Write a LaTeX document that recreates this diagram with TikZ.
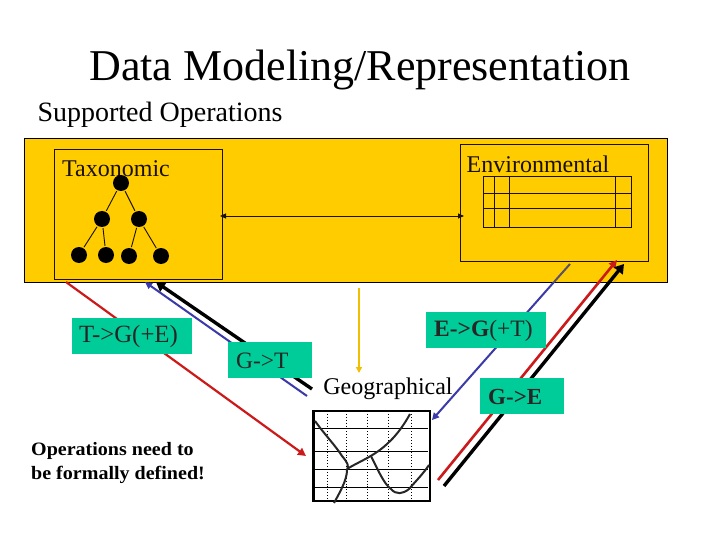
\documentclass[tikz,border=0pt]{standalone}
\usepackage{fontspec}
\setmainfont{Liberation Serif}
\newfontfamily\notefont[FakeStretch=1.06]{Liberation Serif}
\usetikzlibrary{arrows.meta}
\definecolor{panelyellow}{HTML}{FFCC00}
\definecolor{boxgreen}{HTML}{00CC99}
\definecolor{linered}{HTML}{CC1A1A}
\definecolor{lineblue}{HTML}{3A3AA8}
\definecolor{linegold}{HTML}{F0C000}
\definecolor{lineslate}{HTML}{5A5068}
\definecolor{inkdark}{HTML}{1A1008}
\tikzset{
  opbox/.style={fill=boxgreen,draw=none,minimum height=36pt,inner sep=0pt,text=black!85,anchor=center},
  oplabel/.style={inner sep=0pt,text=black!85,anchor=west},
  lbl/.style={inner sep=0pt,anchor=center},
  treedot/.style={circle,fill=black,minimum size=16pt,inner sep=0pt,draw=none},
  treeedge/.style={draw=inkdark,line width=0.9pt,shorten >=1pt,shorten <=1pt},
  tablerule/.style={line width=1pt,draw=inkdark},
  gridsolid/.style={line width=0.9pt,draw=black},
  griddot/.style={line width=0.9pt,draw=black,dotted},
  chartcurve/.style={line width=2pt,draw=black!85}
}
\begin{document}
\begin{tikzpicture}[x=1pt,y=-1pt]
\useasboundingbox (0,0) rectangle (720,540);
\fill[white] (0,0) rectangle (720,540);
\node[lbl,font=\fontsize{44}{46}\selectfont] (title) at (360,69.5) {Data Modeling/Representation};
\node[lbl,font=\fontsize{28}{30}\selectfont] (sub) at (160,115) {Supported Operations};
% panels
\fill[panelyellow,draw=black,line width=1pt] (24.5,138.5) rectangle (667,282);
\draw[draw=inkdark,line width=1pt] (54.5,149.5) rectangle (222.5,279);
\draw[draw=inkdark,line width=1pt] (460.5,144.5) rectangle (648.5,261);
\coordinate (taxR) at (220,216);
\coordinate (envL) at (464,216);
\draw[line width=0.9pt,draw=inkdark,{Triangle[length=6pt,width=5pt]}-{Triangle[length=6pt,width=5pt]}] (taxR) -- (envL);
\node[lbl,text=inkdark,font=\fontsize{24}{26}\selectfont] (tax) at (116,169) {Taxonomic};
\node[lbl,text=inkdark,font=\fontsize{24}{26}\selectfont] (env) at (538,164.5) {Environmental};
% tree
\node[treedot] (n0) at (121,183) {};
\node[treedot] (n1) at (102,219) {};
\node[treedot] (n2) at (139,219) {};
\node[treedot] (n3) at (79,255) {};
\node[treedot] (n4) at (106,255) {};
\node[treedot] (n5) at (129,256) {};
\node[treedot] (n6) at (161,256) {};
\foreach \a/\b in {n0/n1,n0/n2,n1/n3,n1/n4,n2/n5,n2/n6} \draw[treeedge] (\a) -- (\b);
% table
\foreach \yy in {177,194,209,228} \draw[tablerule] (483,\yy) -- (632,\yy);
\foreach \xx in {483,494,509,615,631} \draw[tablerule] (\xx,177) -- (\xx,228);
% chart
\draw[line width=2.2pt,draw=black] (313.5,411) rectangle (430,501);
\foreach \yy in {428,451,469,487} \draw[gridsolid] (314,\yy) -- (428,\yy);
\foreach \xx in {327,346,367,388,411} \draw[griddot] (\xx,411) -- (\xx,501);
\draw[chartcurve] (315,421) .. controls (325,435) and (335,445) .. (342,456) .. controls (348,463) and (349,466) .. (347,470) .. controls (347,480) and (340,492) .. (334,503);
\draw[chartcurve] (347,469) .. controls (358,462) and (375,456) .. (388,443) .. controls (396,436) and (404,425) .. (410,414);
\draw[chartcurve] (371,456) .. controls (378,470) and (384,484) .. (391,489) .. controls (396,495) and (403,494) .. (409,489) .. controls (415,482) and (423,474) .. (429,465);
% connectors
\coordinate (redA) at (66,282);
\coordinate (redB) at (306,456);
\coordinate (blueTa) at (307,396);
\coordinate (blueTb) at (145,282);
\coordinate (blackTa) at (312,389);
\coordinate (blackTb) at (156,282);
\coordinate (goldA) at (359,288);
\coordinate (goldB) at (359,373);
\coordinate (blueEa) at (570,264);
\coordinate (blueEm) at (554,282);
\coordinate (blueEb) at (432,420);
\coordinate (redEa) at (438,480);
\coordinate (redEb) at (617,260);
\coordinate (blackEa) at (444,486);
\coordinate (blackEb) at (624,264);
\draw[line width=2.2pt,draw=linered,-{Triangle[length=8pt,width=8pt,fill=linered]}] (redA) -- (redB);
\draw[line width=2pt,draw=lineblue,-{Triangle[length=7pt,width=7pt,fill=lineblue]}] (blueTa) -- (blueTb);
\draw[line width=3.4pt,draw=black,-{Triangle[length=9pt,width=11pt,fill=black]}] (blackTa) -- (blackTb);
\draw[line width=1.5pt,draw=linegold,-{Triangle[length=6pt,width=6pt,fill=linegold]}] (goldA) -- (goldB);
\draw[line width=2pt,draw=lineblue,-{Triangle[length=7pt,width=7pt,fill=lineblue]}] (blueEm) -- (blueEb);
\draw[line width=2pt,draw=lineslate] (blueEa) -- (blueEm);
\draw[line width=2.6pt,draw=linered,-{Triangle[length=8pt,width=8pt,fill=linered]}] (redEa) -- (redEb);
\draw[line width=3.4pt,draw=black,-{Triangle[length=9pt,width=11pt,fill=black]}] (blackEa) -- (blackEb);
% labels on green
\node[opbox,minimum width=120pt] (tg) at (132,336) {};
\node[oplabel,font=\fontsize{24.8}{26}\selectfont] (tgt) at (79,337) {T->G(+E)};
\node[opbox,minimum width=84pt] (gt) at (270,360) {};
\node[oplabel,font=\fontsize{23.5}{26}\selectfont] (gtt) at (236,361) {G->T};
\node[opbox,minimum width=120pt] (eg) at (486,330) {};
\node[oplabel,font=\fontsize{23.5}{26}\selectfont] (egt) at (434,331) {\textbf{E->G}(+T)};
\node[opbox,minimum width=84pt] (ge) at (522,396) {};
\node[oplabel,font=\bfseries\fontsize{23}{26}\selectfont] (get) at (488,397) {G->E};
\node[lbl,font=\fontsize{24}{26}\selectfont] (geo) at (388,389) {Geographical};
\node[lbl,align=left,font=\notefont\bfseries\fontsize{18.9}{24}\selectfont,anchor=west] (note) at (31,463) {Operations need to\\be formally defined!};
\end{tikzpicture}
\end{document}
